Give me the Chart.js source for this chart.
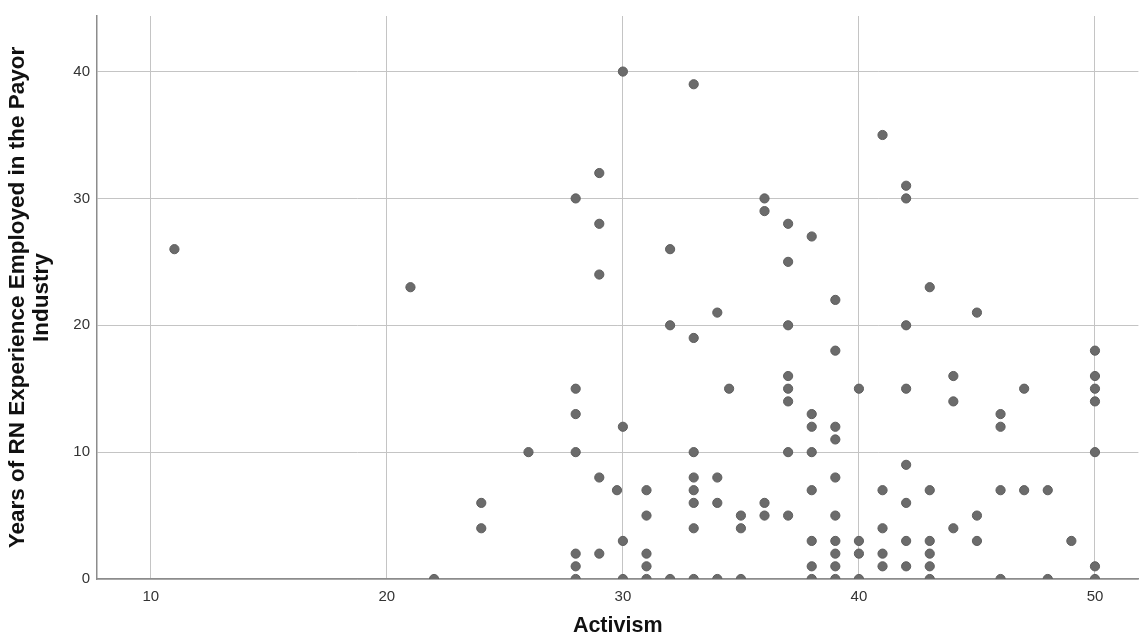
<!DOCTYPE html>
<html>
<head>
<meta charset="utf-8">
<script src="https://cdn.jsdelivr.net/npm/chart.js@4"></script>
<style>
  html, body { margin: 0; padding: 0; background: #fff; }
  #chart { display: block; }
</style>
</head>
<body>
<canvas id="chart" width="1144" height="644"></canvas>
<script>
// === Data ===
const activism = [
  11, 21, 22, 24, 24, 26,
  28, 28, 28, 28, 28, 28, 28,
  29, 29, 29, 29, 29, 29.75,
  30, 30, 30, 30,
  31, 31, 31, 31, 31,
  32, 32, 32,
  33, 33, 33, 33, 33, 33, 33, 33,
  34, 34, 34, 34, 34.5,
  35, 35, 35,
  36, 36, 36, 36,
  37, 37, 37, 37, 37, 37, 37, 37,
  38, 38, 38, 38, 38, 38, 38, 38,
  39, 39, 39, 39, 39, 39, 39, 39, 39, 39,
  40, 40, 40, 40,
  41, 41, 41, 41, 41,
  42, 42, 42, 42, 42, 42, 42, 42,
  43, 43, 43, 43, 43, 43,
  44, 44, 44,
  45, 45, 45,
  46, 46, 46, 46,
  47, 47,
  48, 48,
  49,
  50, 50, 50, 50, 50, 50, 50
];
const years = [
  26, 23, 0, 6, 4, 10,
  30, 15, 13, 10, 2, 1, 0,
  32, 28, 24, 8, 2, 7,
  40, 12, 3, 0,
  7, 5, 2, 1, 0,
  26, 20, 0,
  39, 19, 10, 8, 7, 6, 4, 0,
  21, 8, 6, 0, 15,
  5, 4, 0,
  30, 29, 6, 5,
  28, 25, 20, 16, 15, 14, 10, 5,
  27, 13, 12, 10, 7, 3, 1, 0,
  22, 18, 12, 11, 8, 5, 3, 2, 1, 0,
  15, 3, 2, 0,
  35, 7, 4, 2, 1,
  31, 30, 20, 15, 9, 6, 3, 1,
  23, 7, 3, 2, 1, 0,
  16, 14, 4,
  21, 5, 3,
  13, 12, 7, 0,
  15, 7,
  7, 0,
  3,
  18, 16, 15, 14, 10, 1, 0
];
const xTicks = [10, 20, 30, 40, 50];
const yTicks = [0, 10, 20, 30, 40];

const xTitle = 'Activism';
const yTitle = ['Years of RN Experience Employed in the Payor', 'Industry'];

const points = activism.map((x, i) => ({ x: x, y: years[i] }));

// === Chart ===
new Chart(document.getElementById('chart'), {
  type: 'scatter',
  data: {
    datasets: [{
      data: points,
      backgroundColor: '#6b6b6b',
      borderColor: '#5e5e5e',
      borderWidth: 1,
      pointRadius: 4.6,
      clip: 0
    }]
  },
  options: {
    responsive: false,
    animation: false,
    layout: { padding: { top: 14, right: 0, left: 0, bottom: 0 } },
    plugins: {
      legend: { display: false },
      tooltip: { enabled: false }
    },
    scales: {
      x: {
        type: 'linear',
        min: 7.72,
        max: 51.84,
        afterBuildTicks: s => { s.ticks = xTicks.map(v => ({ value: v })); },
        afterFit: s => { s.height = 65; },
        grid: { color: '#c4c4c4', lineWidth: 1, drawTicks: false },
        border: { color: '#8c8c8c', width: 1.5 },
        ticks: {
          padding: 9,
          color: '#333',
          font: { family: 'Liberation Sans', size: 15 }
        },
        title: {
          display: true,
          text: xTitle,
          color: '#111',
          font: { family: 'Liberation Sans', size: 21.5, weight: 'bold', lineHeight: 1.2 },
          padding: { top: 0, bottom: 5 }
        }
      },
      y: {
        type: 'linear',
        min: 0,
        max: 44.38,
        afterBuildTicks: s => { s.ticks = yTicks.map(v => ({ value: v })); },
        afterFit: s => { s.width = 97; },
        grid: { color: '#c4c4c4', lineWidth: 1, drawTicks: false },
        border: { color: '#8c8c8c', width: 1.5 },
        ticks: {
          padding: 7,
          color: '#333',
          font: { family: 'Liberation Sans', size: 15 }
        },
        title: {
          display: true,
          text: yTitle,
          color: '#111',
          font: { family: 'Liberation Sans', size: 22.5, weight: 'bold', lineHeight: 1.07 },
          padding: { top: 6, bottom: 0 }
        }
      }
    }
  }
});
</script>
</body>
</html>
